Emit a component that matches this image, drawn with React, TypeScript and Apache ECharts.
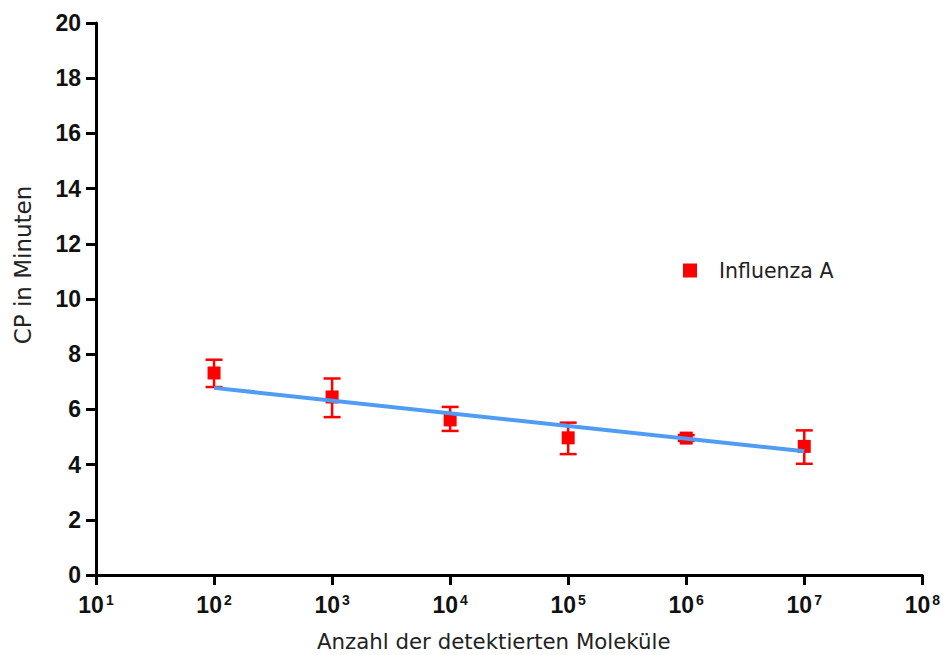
import React, { useEffect, useRef } from "react";
import * as echarts from "echarts";

const molecules = [1e2, 1e3, 1e4, 1e5, 1e6, 1e7];
const cpMean = [7.32, 6.45, 5.62, 4.97, 4.96, 4.66];
const cpLow = [6.81, 5.72, 5.22, 4.38, 4.86, 4.03];
const cpHigh = [7.8, 7.12, 6.09, 5.52, 5.07, 5.24];
const fitX = [1e2, 1e7];
const fitY = [6.78, 4.48];
const seriesName = "Influenza A";
const xTitle = "Anzahl der detektierten Moleküle";
const yTitle = "CP in Minuten";

export default function App() {
  const ref = useRef<HTMLDivElement>(null);
  useEffect(() => {
    if (!ref.current) return;
    const chart = echarts.init(ref.current, null, { renderer: "svg" });
    const font = "'DejaVu Sans', Verdana, sans-serif";
    const tickFont = "'Liberation Sans', Arial, sans-serif";
    chart.setOption({
      animation: false,
      backgroundColor: "#ffffff",
      grid: { left: 96, right: 19, top: 23, bottom: 80, containLabel: false },
      legend: {
        show: true,
        data: [seriesName],
        left: 678,
        top: 255,
        itemWidth: 14,
        itemHeight: 14,
        icon: "rect",
        textStyle: { fontFamily: font, fontSize: 20.5, color: "#222", padding: [0, 0, 0, 17] },
      },
      xAxis: {
        type: "log",
        logBase: 10,
        min: 10,
        max: 1e8,
        splitLine: { show: false },
        axisLine: { lineStyle: { color: "#000", width: 3 } },
        axisTick: { show: true, length: 10, lineStyle: { color: "#000", width: 3 } },
        axisLabel: {
          margin: 18,
          formatter: (v: number) => `{b|10}{s|${Math.round(Math.log10(v))}}`,
          rich: {
            b: { fontFamily: tickFont, fontWeight: "bold", fontSize: 23, color: "#111" },
            s: { fontFamily: tickFont, fontWeight: "bold", fontSize: 14, color: "#111", padding: [0, 0, 10, 2] },
          },
        },
      },
      yAxis: {
        type: "value",
        min: 0,
        max: 20,
        interval: 2,
        splitLine: { show: false },
        axisLine: { show: true, lineStyle: { color: "#000", width: 3 } },
        axisTick: { show: true, length: 10, lineStyle: { color: "#000", width: 3 } },
        axisLabel: {
          margin: 15,
          fontFamily: tickFont,
          fontWeight: "bold",
          fontSize: 23,
          color: "#111",
        },
      },
      graphic: [
        {
          type: "text",
          left: 317,
          top: 631,
          style: { text: xTitle, fontFamily: font, fontSize: 21.3, fill: "#222" },
        },
        {
          type: "text",
          x: 11,
          y: 265,
          rotation: Math.PI / 2,
          style: {
            text: yTitle,
            fontFamily: font,
            fontSize: 23,
            fill: "#222",
            align: "center",
            verticalAlign: "top",
          },
        },
      ],
      series: [
        {
          type: "custom",
          name: "err",
          z: 2,
          data: molecules.map((m, i) => [m, cpLow[i], cpHigh[i]]),
          renderItem: (params: any, api: any) => {
            const x = api.value(0);
            const lo = api.coord([x, api.value(1)]);
            const hi = api.coord([x, api.value(2)]);
            const hw = 8.5;
            const style = { stroke: "#ff0000", lineWidth: 2.5 };
            return {
              type: "group",
              children: [
                { type: "line", shape: { x1: lo[0], y1: lo[1], x2: hi[0], y2: hi[1] }, style },
                { type: "line", shape: { x1: lo[0] - hw, y1: lo[1], x2: lo[0] + hw, y2: lo[1] }, style },
                { type: "line", shape: { x1: hi[0] - hw, y1: hi[1], x2: hi[0] + hw, y2: hi[1] }, style },
              ],
            };
          },
        },
        {
          type: "scatter",
          name: seriesName,
          z: 3,
          symbol: "rect",
          symbolSize: 13,
          itemStyle: { color: "#ff0000", opacity: 1 },
          data: molecules.map((m, i) => [m, cpMean[i]]),
        },
        {
          type: "line",
          name: "fit",
          z: 4,
          symbol: "none",
          lineStyle: { color: "#4f9cf2", width: 4 },
          data: fitX.map((m, i) => [m, fitY[i]]),
        },
      ],
    });
    return () => chart.dispose();
  }, []);
  return <div ref={ref} style={{ width: 943, height: 655, position: "absolute", left: 0, top: 0 }} />;
}
